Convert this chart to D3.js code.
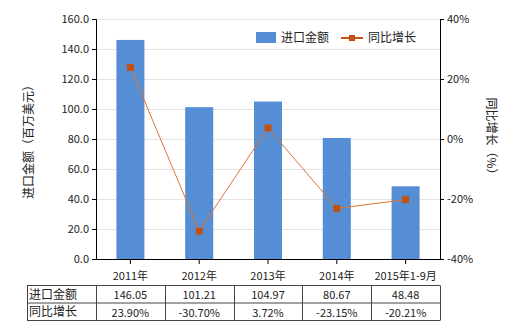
<!DOCTYPE html>
<html>
<head>
<meta charset="utf-8">
<script src="https://d3js.org/d3.v7.min.js"></script>
<style>
  body { margin: 0; background: #fff; }
  text { font-family: "Noto Sans CJK SC", "Noto Sans", sans-serif; fill: #222; }
</style>
</head>
<body>
<div id="chart"></div>
<script>
// dati
var categories = ["2011年", "2012年", "2013年", "2014年", "2015年1-9月"];
var importValues = [146.05, 101.21, 104.97, 80.67, 48.48];
var growthValues = [23.90, -30.70, 3.72, -23.15, -20.21];
var importLabels = ["146.05", "101.21", "104.97", "80.67", "48.48"];
var growthLabels = ["23.90%", "-30.70%", "3.72%", "-23.15%", "-20.21%"];
var leftTicks = [0, 20, 40, 60, 80, 100, 120, 140, 160];
var rightTicks = [-40, -20, 0, 20, 40];

var W = 520, H = 330;
var pLeft = 96, pRight = 440, pTop = 19, pBottom = 259;

var svg = d3.select("#chart").append("svg").attr("width", W).attr("height", H);

var x = d3.scaleBand().domain(categories).range([pLeft, pRight]);
var yL = d3.scaleLinear().domain([0, 160]).range([pBottom, pTop]);
var yR = d3.scaleLinear().domain([-40, 40]).range([pBottom, pTop]);

// griglia
svg.append("g").selectAll("line").data(leftTicks.slice(1)).enter().append("line")
  .attr("x1", pLeft).attr("x2", pRight)
  .attr("y1", d => yL(d) + 0.5).attr("y2", d => yL(d) + 0.5)
  .attr("stroke", "#e3e3e3");

// barre
var bw = 28;
svg.append("g").selectAll("rect").data(importValues).enter().append("rect")
  .attr("x", (d, i) => x(categories[i]) + x.bandwidth() / 2 - bw / 2)
  .attr("width", bw)
  .attr("y", d => yL(d))
  .attr("height", d => pBottom - yL(d))
  .attr("fill", "#558ed5");

// assi
var axL = svg.append("g").attr("transform", "translate(" + pLeft + ",0)")
  .call(d3.axisLeft(yL).tickValues(leftTicks).tickFormat(d3.format(".1f")).tickSize(4));
var axR = svg.append("g").attr("transform", "translate(" + pRight + ",0)")
  .call(d3.axisRight(yR).tickValues(rightTicks).tickFormat(d => d + "%").tickSize(4));
var axB = svg.append("g").attr("transform", "translate(0," + pBottom + ")")
  .call(d3.axisBottom(x).tickSize(5).tickSizeOuter(0));
[axL, axR, axB].forEach(function (g) {
  g.select(".domain").attr("stroke", "#000");
  g.selectAll(".tick line").attr("stroke", "#000");
  g.selectAll("text").attr("font-size", 11).attr("fill", "#222")
   .attr("font-family", "'Noto Sans CJK SC', sans-serif");
});
axB.selectAll("text").attr("dy", "1.2em");

// linea
var line = d3.line()
  .x((d, i) => x(categories[i]) + x.bandwidth() / 2)
  .y(d => yR(d));
svg.append("path").datum(growthValues).attr("d", line)
  .attr("fill", "none").attr("stroke", "#e0742f").attr("stroke-width", 1);
svg.append("g").selectAll("rect").data(growthValues).enter().append("rect")
  .attr("x", (d, i) => x(categories[i]) + x.bandwidth() / 2 - 3.5)
  .attr("y", d => yR(d) - 3.5)
  .attr("width", 7).attr("height", 7)
  .attr("fill", "#c4500f");

// titoli assi
svg.append("text")
  .attr("transform", "translate(33," + ((pTop + pBottom) / 2) + ") rotate(-90)")
  .attr("text-anchor", "middle").attr("font-size", 12)
  .text("进口金额（百万美元）");
svg.append("text")
  .attr("transform", "translate(487," + ((pTop + pBottom) / 2) + ") rotate(90)")
  .attr("text-anchor", "middle").attr("font-size", 12)
  .text("同比增长（%）");

// legenda
var lg = svg.append("g");
lg.append("rect").attr("x", 256).attr("y", 32).attr("width", 20).attr("height", 11).attr("fill", "#558ed5");
lg.append("text").attr("x", 281).attr("y", 42).attr("font-size", 12).text("进口金额");
lg.append("line").attr("x1", 341).attr("x2", 363).attr("y1", 38).attr("y2", 38)
  .attr("stroke", "#c4500f").attr("stroke-width", 2);
lg.append("rect").attr("x", 349).attr("y", 35).attr("width", 6).attr("height", 6).attr("fill", "#c4500f");
lg.append("text").attr("x", 368).attr("y", 42).attr("font-size", 12).text("同比增长");

// tabella
var tTop = 285.5, rowH = 17.5, tLeft = 27;
var tab = svg.append("g").attr("stroke", "#444").attr("fill", "none");
[0, 1, 2].forEach(function (r) {
  tab.append("line").attr("x1", tLeft).attr("x2", pRight)
    .attr("y1", tTop + r * rowH).attr("y2", tTop + r * rowH);
});
var cols = [tLeft, pLeft].concat(categories.map(c => x(c) + x.bandwidth()));
cols.forEach(function (cx) {
  tab.append("line").attr("x1", Math.round(cx) + 0.5).attr("x2", Math.round(cx) + 0.5)
    .attr("y1", tTop).attr("y2", tTop + 2 * rowH);
});
svg.append("text").attr("x", tLeft + 2).attr("y", tTop + 13).attr("font-size", 12).text("进口金额");
svg.append("text").attr("x", tLeft + 2).attr("y", tTop + rowH + 13).attr("font-size", 12).text("同比增长");
[importLabels, growthLabels].forEach(function (row, r) {
  svg.append("g").selectAll("text").data(row).enter().append("text")
    .attr("x", (d, i) => x(categories[i]) + x.bandwidth() / 2)
    .attr("y", tTop + r * rowH + 13.5)
    .attr("text-anchor", "middle").attr("font-size", 11)
    .text(d => d);
});
</script>
</body>
</html>
